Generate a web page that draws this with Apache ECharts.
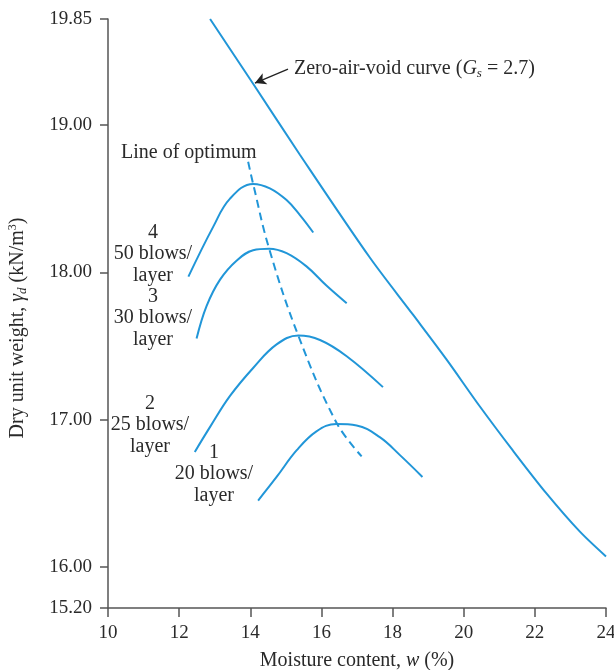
<!DOCTYPE html>
<html>
<head>
<meta charset="utf-8">
<script src="https://cdn.jsdelivr.net/npm/echarts@6/dist/echarts.min.js"></script>
<style>html,body{margin:0;padding:0;background:#fff;}#c{width:614px;height:670px;}</style>
</head>
<body>
<div id="c"></div>
<script>
// ---- data (x: moisture content %, y: dry unit weight on the plot's linear scale) ----
const xTickMin = 10, xTickMax = 24, xTickStep = 2;
const yTickValues = [15.72, 16, 17, 18, 19, 19.72];
const yTickLabels = ['15.20', '16.00', '17.00', '18.00', '19.00', '19.85'];

const zavX = [12.87, 14.08, 15.39, 17.36, 18.58, 19.51, 20.45, 21.38, 22.32, 23.26, 24.0];
const zavY = [19.72, 19.28, 18.80, 18.10, 17.71, 17.41, 17.09, 16.79, 16.50, 16.24, 16.07];

const c4X = [12.26, 12.96, 13.43, 14.08, 14.55, 15.02, 15.39, 15.77];
const c4Y = [17.97, 18.31, 18.50, 18.60, 18.57, 18.49, 18.39, 18.27];

const c3X = [12.49, 12.77, 13.15, 13.62, 14.08, 14.53, 15.02, 15.58, 16.14, 16.71];
const c3Y = [17.55, 17.77, 17.95, 18.08, 18.15, 18.16, 18.13, 18.04, 17.91, 17.79];

const c2X = [12.44, 12.87, 13.43, 14.08, 14.74, 15.35, 15.96, 16.71, 17.73];
const c2Y = [16.78, 16.95, 17.16, 17.35, 17.51, 17.57, 17.54, 17.43, 17.22];

const c1X = [14.22, 14.74, 15.30, 15.86, 16.42, 16.99, 17.64, 18.20, 18.84];
const c1Y = [16.45, 16.61, 16.79, 16.92, 16.97, 16.96, 16.88, 16.76, 16.61];

const optX = [13.94, 14.08, 14.53, 15.35, 16.42, 17.13];
const optY = [18.75, 18.60, 18.16, 17.57, 16.98, 16.75];

// arrow annotation (tail at label, head at curve)
const arrowFrom = [15.06, 19.38];
const arrowTo = [14.13, 19.285];

const zip = (a, b) => a.map((v, i) => [v, b[i]]);
const BLUE = '#2196d8';
const SERIF = '"Liberation Serif", "DejaVu Serif", serif';
const TXT = '#2a2a2a';
const FS = 20;

const chart = echarts.init(document.getElementById('c'), null, {renderer: 'canvas'});

function curve(name, data, extra) {
  return Object.assign({
    name: name, type: 'line', data: data, smooth: 0.4, showSymbol: false,
    lineStyle: {color: BLUE, width: 2}, z: 3, silent: true
  }, extra || {});
}

function blowLabel(x, y, txt) {
  return {type: 'text', x: x, y: y, style: {text: txt, font: FS + 'px ' + SERIF, fill: TXT,
    textAlign: 'center', textVerticalAlign: 'middle', lineHeight: 21.5}};
}

const option = {
  animation: false,
  backgroundColor: '#fff',
  grid: {left: 108, right: 8, top: 19, bottom: 62, containLabel: false, outerBoundsMode: 'none'},
  xAxis: {
    type: 'value', min: xTickMin, max: xTickMax, interval: xTickStep,
    name: '{a|Moisture content, }{i|w}{a| (%)}',
    nameLocation: 'middle', nameGap: 43,
    nameTextStyle: {
      rich: {
        a: {fontFamily: SERIF, fontSize: FS, color: TXT},
        i: {fontFamily: SERIF, fontSize: FS, color: TXT, fontStyle: 'italic'}
      }
    },
    axisLine: {show: true, lineStyle: {color: '#555', width: 1.5}},
    axisTick: {show: true, inside: false, length: 9, lineStyle: {color: '#555', width: 1.5}},
    axisLabel: {fontFamily: SERIF, fontSize: 19, color: TXT, margin: 16},
    splitLine: {show: false}
  },
  yAxis: {
    type: 'value', min: yTickValues[0], max: yTickValues[yTickValues.length - 1],
    axisLine: {show: true, lineStyle: {color: '#555', width: 1.5}},
    axisTick: {show: true, length: 8, lineStyle: {color: '#555', width: 1.5}, customValues: yTickValues},
    axisLabel: {
      fontFamily: SERIF, fontSize: 19, color: TXT, margin: 16,
      customValues: yTickValues,
      formatter: function (v) {
        let best = 0, d = Infinity;
        yTickValues.forEach((t, i) => { if (Math.abs(t - v) < d) { d = Math.abs(t - v); best = i; } });
        return yTickLabels[best];
      }
    },
    splitLine: {show: false}
  },
  series: [
    curve('Zero-air-void', zip(zavX, zavY), {
      smooth: 0.3,
      markLine: {
        silent: true, symbol: ['none', 'arrow'], symbolSize: [9, 11],
        lineStyle: {color: '#222', width: 1.3, type: 'solid'},
        label: {show: false},
        data: [[{coord: arrowFrom}, {coord: arrowTo}]]
      }
    }),
    curve('50 blows', zip(c4X, c4Y)),
    curve('30 blows', zip(c3X, c3Y)),
    curve('25 blows', zip(c2X, c2Y)),
    curve('20 blows', zip(c1X, c1Y)),
    curve('Line of optimum', zip(optX, optY), {
      smooth: 0.4,
      lineStyle: {color: BLUE, width: 2, type: [8, 5]}
    })
  ],
  graphic: [
    {type: 'text', x: 294, y: 69, style: {
      text: '{a|Zero-air-void curve (}{i|G}{s|s}{a| = 2.7)}',
      textVerticalAlign: 'middle', fill: TXT,
      rich: {
        a: {fontFamily: SERIF, fontSize: FS, fill: TXT},
        i: {fontFamily: SERIF, fontSize: FS, fontStyle: 'italic', fill: TXT},
        s: {fontFamily: SERIF, fontSize: 13, fontStyle: 'italic', fill: TXT, verticalAlign: 'bottom', padding: [9, 0, 0, 0]}
      }
    }},
    {type: 'text', x: 121, y: 153, style: {text: 'Line of optimum', font: FS + 'px ' + SERIF, fill: TXT, textVerticalAlign: 'middle'}},
    blowLabel(153, 254, '4\n50 blows/\nlayer'),
    blowLabel(153, 318, '3\n30 blows/\nlayer'),
    blowLabel(150, 425, '2\n25 blows/\nlayer'),
    blowLabel(214, 474, '1\n20 blows/\nlayer'),
    {type: 'text', x: 18, y: 328, rotation: Math.PI / 2, style: {
      text: '{a|Dry unit weight, }{g|γ}{d|d}{a| (kN/m}{p|3}{a|)}',
      textAlign: 'center', textVerticalAlign: 'middle', fill: TXT,
      rich: {
        a: {fontFamily: SERIF, fontSize: FS, fill: TXT},
        g: {fontFamily: SERIF, fontSize: FS, fontStyle: 'italic', fill: TXT},
        d: {fontFamily: SERIF, fontSize: 13, fontStyle: 'italic', fill: TXT, verticalAlign: 'bottom', padding: [9, 0, 0, 0]},
        p: {fontFamily: SERIF, fontSize: 12, fill: TXT, verticalAlign: 'top', padding: [0, 0, 9, 0]}
      }
    }}
  ]
};
chart.setOption(option);
</script>
</body>
</html>
